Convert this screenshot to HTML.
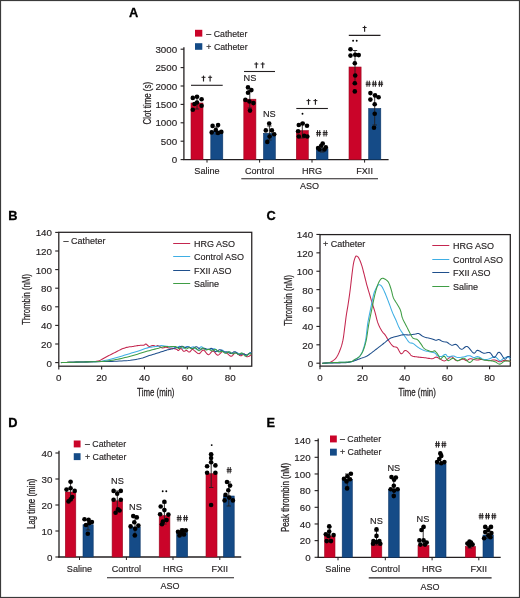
<!DOCTYPE html>
<html><head><meta charset="utf-8"><style>
html,body{margin:0;padding:0;background:#fff;}
body{width:520px;height:598px;overflow:hidden;}
svg{display:block;font-family:"Liberation Sans", sans-serif;will-change:transform;}
</style></head><body>
<svg width="520" height="598" viewBox="0 0 520 598">
<rect width="520" height="598" fill="#fff"/>
<rect x="0.5" y="0.5" width="519" height="597" fill="none" stroke="#3a3a3a" stroke-width="1.2"/>
<text x="128.9" y="16.6" font-size="12.8" text-anchor="start" font-weight="bold" fill="#000" stroke="#000" stroke-width="0.3">A</text>
<text x="8.3" y="220.1" font-size="12.8" text-anchor="start" font-weight="bold" fill="#000" stroke="#000" stroke-width="0.3">B</text>
<text x="266.6" y="220.1" font-size="12.8" text-anchor="start" font-weight="bold" fill="#000" stroke="#000" stroke-width="0.3">C</text>
<text x="8.3" y="427.1" font-size="12.8" text-anchor="start" font-weight="bold" fill="#000" stroke="#000" stroke-width="0.3">D</text>
<text x="266.6" y="427.1" font-size="12.8" text-anchor="start" font-weight="bold" fill="#000" stroke="#000" stroke-width="0.3">E</text>
<line x1="183.9" y1="47.2" x2="183.9" y2="160.1" stroke="#231f20" stroke-width="1.3"/>
<line x1="183.3" y1="159.6" x2="388.6" y2="159.6" stroke="#231f20" stroke-width="1.3"/>
<line x1="180.6" y1="159.6" x2="183.9" y2="159.6" stroke="#231f20" stroke-width="1.1"/>
<text x="177.2" y="163.1" font-size="9.8" text-anchor="end" fill="#231f20" stroke="#231f20" stroke-width="0.15">0</text>
<line x1="180.6" y1="141.2" x2="183.9" y2="141.2" stroke="#231f20" stroke-width="1.1"/>
<text x="177.2" y="144.7" font-size="9.8" text-anchor="end" fill="#231f20" stroke="#231f20" stroke-width="0.15">500</text>
<line x1="180.6" y1="122.8" x2="183.9" y2="122.8" stroke="#231f20" stroke-width="1.1"/>
<text x="177.2" y="126.3" font-size="9.8" text-anchor="end" fill="#231f20" stroke="#231f20" stroke-width="0.15">1000</text>
<line x1="180.6" y1="104.4" x2="183.9" y2="104.4" stroke="#231f20" stroke-width="1.1"/>
<text x="177.2" y="107.9" font-size="9.8" text-anchor="end" fill="#231f20" stroke="#231f20" stroke-width="0.15">1500</text>
<line x1="180.6" y1="86" x2="183.9" y2="86" stroke="#231f20" stroke-width="1.1"/>
<text x="177.2" y="89.5" font-size="9.8" text-anchor="end" fill="#231f20" stroke="#231f20" stroke-width="0.15">2000</text>
<line x1="180.6" y1="67.6" x2="183.9" y2="67.6" stroke="#231f20" stroke-width="1.1"/>
<text x="177.2" y="71.1" font-size="9.8" text-anchor="end" fill="#231f20" stroke="#231f20" stroke-width="0.15">2500</text>
<line x1="180.6" y1="49.2" x2="183.9" y2="49.2" stroke="#231f20" stroke-width="1.1"/>
<text x="177.2" y="52.7" font-size="9.8" text-anchor="end" fill="#231f20" stroke="#231f20" stroke-width="0.15">3000</text>
<text transform="translate(151,103.2) rotate(-90) scale(0.76,1)" font-size="10.4" text-anchor="middle" fill="#231f20" stroke="#231f20" stroke-width="0.25">Clot time (s)</text>
<rect x="195" y="29.8" width="7.3" height="6.8" fill="#ca0429"/>
<rect x="195" y="43.2" width="7.3" height="6.6" fill="#154b87"/>
<text x="206.3" y="36.6" font-size="8.8" text-anchor="start" fill="#231f20" stroke="#231f20" stroke-width="0.15">– Catheter</text>
<text x="206.3" y="49.8" font-size="8.8" text-anchor="start" fill="#231f20" stroke="#231f20" stroke-width="0.15">+ Catheter</text>
<line x1="207" y1="159.6" x2="207" y2="162.6" stroke="#231f20" stroke-width="1.0"/>
<text x="207" y="174" font-size="9.1" text-anchor="middle" fill="#231f20" stroke="#231f20" stroke-width="0.15">Saline</text>
<line x1="259.6" y1="159.6" x2="259.6" y2="162.6" stroke="#231f20" stroke-width="1.0"/>
<text x="259.6" y="174" font-size="9.1" text-anchor="middle" fill="#231f20" stroke="#231f20" stroke-width="0.15">Control</text>
<line x1="312" y1="159.6" x2="312" y2="162.6" stroke="#231f20" stroke-width="1.0"/>
<text x="312" y="174" font-size="9.1" text-anchor="middle" fill="#231f20" stroke="#231f20" stroke-width="0.15">HRG</text>
<line x1="364.6" y1="159.6" x2="364.6" y2="162.6" stroke="#231f20" stroke-width="1.0"/>
<text x="364.6" y="174" font-size="9.1" text-anchor="middle" fill="#231f20" stroke="#231f20" stroke-width="0.15">FXII</text>
<line x1="241.3" y1="178.8" x2="378" y2="178.8" stroke="#231f20" stroke-width="1.1"/>
<text x="309.6" y="189.4" font-size="9" text-anchor="middle" fill="#231f20" stroke="#231f20" stroke-width="0.15">ASO</text>
<rect x="191" y="103" width="12" height="56.6" fill="#ca0429" stroke="#9a0a22" stroke-width="0.6"/>
<rect x="210.8" y="131" width="12" height="28.6" fill="#154b87" stroke="#0b3566" stroke-width="0.6"/>
<rect x="243.8" y="99.2" width="12.1" height="60.4" fill="#ca0429" stroke="#9a0a22" stroke-width="0.6"/>
<rect x="263.5" y="133.3" width="11.8" height="26.3" fill="#154b87" stroke="#0b3566" stroke-width="0.6"/>
<rect x="296.3" y="130.6" width="12" height="29" fill="#ca0429" stroke="#9a0a22" stroke-width="0.6"/>
<rect x="316.3" y="148.7" width="11.7" height="10.9" fill="#154b87" stroke="#0b3566" stroke-width="0.6"/>
<rect x="349" y="67" width="12.1" height="92.6" fill="#ca0429" stroke="#9a0a22" stroke-width="0.6"/>
<rect x="368.7" y="108.5" width="12.1" height="51.1" fill="#154b87" stroke="#0b3566" stroke-width="0.6"/>
<line x1="197" y1="97" x2="197" y2="109" stroke="#231f20" stroke-width="0.9"/>
<line x1="194.8" y1="97" x2="199.2" y2="97" stroke="#231f20" stroke-width="0.9"/>
<line x1="194.8" y1="109" x2="199.2" y2="109" stroke="#231f20" stroke-width="0.9"/>
<line x1="216.8" y1="127" x2="216.8" y2="134" stroke="#231f20" stroke-width="0.9"/>
<line x1="214.6" y1="127" x2="219" y2="127" stroke="#231f20" stroke-width="0.9"/>
<line x1="214.6" y1="134" x2="219" y2="134" stroke="#231f20" stroke-width="0.9"/>
<line x1="249.8" y1="90.5" x2="249.8" y2="108" stroke="#231f20" stroke-width="0.9"/>
<line x1="247.6" y1="90.5" x2="252" y2="90.5" stroke="#231f20" stroke-width="0.9"/>
<line x1="247.6" y1="108" x2="252" y2="108" stroke="#231f20" stroke-width="0.9"/>
<line x1="269.4" y1="126" x2="269.4" y2="140" stroke="#231f20" stroke-width="0.9"/>
<line x1="267.2" y1="126" x2="271.6" y2="126" stroke="#231f20" stroke-width="0.9"/>
<line x1="267.2" y1="140" x2="271.6" y2="140" stroke="#231f20" stroke-width="0.9"/>
<line x1="302.3" y1="123" x2="302.3" y2="138" stroke="#231f20" stroke-width="0.9"/>
<line x1="300.1" y1="123" x2="304.5" y2="123" stroke="#231f20" stroke-width="0.9"/>
<line x1="300.1" y1="138" x2="304.5" y2="138" stroke="#231f20" stroke-width="0.9"/>
<line x1="322.2" y1="144.5" x2="322.2" y2="152" stroke="#231f20" stroke-width="0.9"/>
<line x1="320" y1="144.5" x2="324.4" y2="144.5" stroke="#231f20" stroke-width="0.9"/>
<line x1="320" y1="152" x2="324.4" y2="152" stroke="#231f20" stroke-width="0.9"/>
<line x1="355" y1="50.5" x2="355" y2="84" stroke="#231f20" stroke-width="0.9"/>
<line x1="352.8" y1="50.5" x2="357.2" y2="50.5" stroke="#231f20" stroke-width="0.9"/>
<line x1="352.8" y1="84" x2="357.2" y2="84" stroke="#231f20" stroke-width="0.9"/>
<line x1="374.7" y1="95" x2="374.7" y2="125" stroke="#231f20" stroke-width="0.9"/>
<line x1="372.5" y1="95" x2="376.9" y2="95" stroke="#231f20" stroke-width="0.9"/>
<line x1="372.5" y1="125" x2="376.9" y2="125" stroke="#231f20" stroke-width="0.9"/>
<circle cx="192.8" cy="97.9" r="2.3" fill="#000"/>
<circle cx="197" cy="96.8" r="2.3" fill="#000"/>
<circle cx="201.6" cy="99.3" r="2.3" fill="#000"/>
<circle cx="197" cy="102.5" r="2.3" fill="#000"/>
<circle cx="201.6" cy="105.7" r="2.3" fill="#000"/>
<circle cx="192.8" cy="109.8" r="2.3" fill="#000"/>
<circle cx="194.5" cy="104" r="2.3" fill="#000"/>
<circle cx="212.6" cy="125.9" r="2.3" fill="#000"/>
<circle cx="218.1" cy="125" r="2.3" fill="#000"/>
<circle cx="215.8" cy="130.1" r="2.3" fill="#000"/>
<circle cx="211.7" cy="132.4" r="2.3" fill="#000"/>
<circle cx="221.3" cy="131.9" r="2.3" fill="#000"/>
<circle cx="218" cy="133" r="2.3" fill="#000"/>
<circle cx="248" cy="87.4" r="2.3" fill="#000"/>
<circle cx="251.4" cy="90.1" r="2.3" fill="#000"/>
<circle cx="248" cy="92.8" r="2.3" fill="#000"/>
<circle cx="245.4" cy="99.9" r="2.3" fill="#000"/>
<circle cx="249.4" cy="101.5" r="2.3" fill="#000"/>
<circle cx="253.4" cy="103.1" r="2.3" fill="#000"/>
<circle cx="250" cy="110.6" r="2.3" fill="#000"/>
<circle cx="269.2" cy="123.5" r="2.3" fill="#000"/>
<circle cx="265.8" cy="130.4" r="2.3" fill="#000"/>
<circle cx="271.9" cy="130.4" r="2.3" fill="#000"/>
<circle cx="274.2" cy="134.2" r="2.3" fill="#000"/>
<circle cx="269.6" cy="136.5" r="2.3" fill="#000"/>
<circle cx="267.3" cy="141.9" r="2.3" fill="#000"/>
<circle cx="298.8" cy="125" r="2.3" fill="#000"/>
<circle cx="302.7" cy="123.5" r="2.3" fill="#000"/>
<circle cx="307" cy="125.8" r="2.3" fill="#000"/>
<circle cx="298.1" cy="131.2" r="2.3" fill="#000"/>
<circle cx="298.8" cy="136.5" r="2.3" fill="#000"/>
<circle cx="304.2" cy="135.8" r="2.3" fill="#000"/>
<circle cx="307.3" cy="136.5" r="2.3" fill="#000"/>
<circle cx="322.7" cy="143.5" r="2.3" fill="#000"/>
<circle cx="318.1" cy="148" r="2.3" fill="#000"/>
<circle cx="325.8" cy="147.3" r="2.3" fill="#000"/>
<circle cx="321.2" cy="145.8" r="2.3" fill="#000"/>
<circle cx="319.5" cy="149.5" r="2.3" fill="#000"/>
<circle cx="324.5" cy="149.5" r="2.3" fill="#000"/>
<circle cx="350.5" cy="49.3" r="2.3" fill="#000"/>
<circle cx="350.5" cy="55.6" r="2.3" fill="#000"/>
<circle cx="355.2" cy="54.7" r="2.3" fill="#000"/>
<circle cx="358.7" cy="55.1" r="2.3" fill="#000"/>
<circle cx="354.8" cy="63.3" r="2.3" fill="#000"/>
<circle cx="355.2" cy="75.5" r="2.3" fill="#000"/>
<circle cx="354.8" cy="83.2" r="2.3" fill="#000"/>
<circle cx="354.8" cy="91.4" r="2.3" fill="#000"/>
<circle cx="370.4" cy="93.1" r="2.3" fill="#000"/>
<circle cx="375.1" cy="95.4" r="2.3" fill="#000"/>
<circle cx="378.6" cy="97.3" r="2.3" fill="#000"/>
<circle cx="370.4" cy="99.6" r="2.3" fill="#000"/>
<circle cx="374.7" cy="104.3" r="2.3" fill="#000"/>
<circle cx="374.7" cy="113.7" r="2.3" fill="#000"/>
<circle cx="374" cy="127.7" r="2.3" fill="#000"/>
<line x1="191" y1="85.3" x2="222.7" y2="85.3" stroke="#231f20" stroke-width="1.1"/>
<line x1="203.5" y1="75.6" x2="203.5" y2="81.5" stroke="#231f20" stroke-width="1.15"/>
<line x1="201.5" y1="77.3" x2="205.5" y2="77.3" stroke="#231f20" stroke-width="1.0"/>
<line x1="210.1" y1="75.6" x2="210.1" y2="81.5" stroke="#231f20" stroke-width="1.15"/>
<line x1="208.1" y1="77.3" x2="212.1" y2="77.3" stroke="#231f20" stroke-width="1.0"/>
<line x1="244" y1="71.5" x2="275" y2="71.5" stroke="#231f20" stroke-width="1.1"/>
<line x1="256.3" y1="62.3" x2="256.3" y2="68.2" stroke="#231f20" stroke-width="1.15"/>
<line x1="254.3" y1="64" x2="258.3" y2="64" stroke="#231f20" stroke-width="1.0"/>
<line x1="262.7" y1="62.3" x2="262.7" y2="68.2" stroke="#231f20" stroke-width="1.15"/>
<line x1="260.7" y1="64" x2="264.7" y2="64" stroke="#231f20" stroke-width="1.0"/>
<line x1="296.3" y1="108.5" x2="327.9" y2="108.5" stroke="#231f20" stroke-width="1.1"/>
<line x1="308.5" y1="98.9" x2="308.5" y2="104.8" stroke="#231f20" stroke-width="1.15"/>
<line x1="306.5" y1="100.6" x2="310.5" y2="100.6" stroke="#231f20" stroke-width="1.0"/>
<line x1="315.4" y1="98.9" x2="315.4" y2="104.8" stroke="#231f20" stroke-width="1.15"/>
<line x1="313.4" y1="100.6" x2="317.4" y2="100.6" stroke="#231f20" stroke-width="1.0"/>
<line x1="348.8" y1="35.4" x2="380.5" y2="35.4" stroke="#231f20" stroke-width="1.1"/>
<line x1="364.6" y1="25.8" x2="364.6" y2="31.7" stroke="#231f20" stroke-width="1.15"/>
<line x1="362.6" y1="27.5" x2="366.6" y2="27.5" stroke="#231f20" stroke-width="1.0"/>
<text x="250" y="81.2" font-size="9.2" text-anchor="middle" fill="#231f20" stroke="#231f20" stroke-width="0.15">NS</text>
<text x="269.3" y="117" font-size="9.2" text-anchor="middle" fill="#231f20" stroke="#231f20" stroke-width="0.15">NS</text>
<circle cx="302.5" cy="113.8" r="0.95" fill="#000"/>
<path d="M317.55,130.1 L317.35,136.5 M319.75,130.1 L319.55,136.5 M316.1,132.53 L321.1,132.53 M316.1,134.2 L321.1,134.2" stroke="#231f20" stroke-width="0.95" fill="none"/>
<path d="M324.15,130.1 L323.95,136.5 M326.35,130.1 L326.15,136.5 M322.7,132.53 L327.7,132.53 M322.7,134.2 L327.7,134.2" stroke="#231f20" stroke-width="0.95" fill="none"/>
<circle cx="353.1" cy="40.8" r="0.95" fill="#000"/>
<circle cx="356.7" cy="40.8" r="0.95" fill="#000"/>
<path d="M367.15,80.7 L366.95,86.8 M369.35,80.7 L369.15,86.8 M365.7,83.02 L370.7,83.02 M365.7,84.6 L370.7,84.6" stroke="#231f20" stroke-width="0.95" fill="none"/>
<path d="M373.35,80.7 L373.15,86.8 M375.55,80.7 L375.35,86.8 M371.9,83.02 L376.9,83.02 M371.9,84.6 L376.9,84.6" stroke="#231f20" stroke-width="0.95" fill="none"/>
<path d="M379.55,80.7 L379.35,86.8 M381.75,80.7 L381.55,86.8 M378.1,83.02 L383.1,83.02 M378.1,84.6 L383.1,84.6" stroke="#231f20" stroke-width="0.95" fill="none"/>
<rect x="58.8" y="232.3" width="192.95" height="133.9" fill="none" stroke="#231f20" stroke-width="1.25"/>
<line x1="55.2" y1="362.6" x2="58.8" y2="362.6" stroke="#231f20" stroke-width="1.1"/>
<text x="52" y="366.6" font-size="9.8" text-anchor="end" fill="#231f20" stroke="#231f20" stroke-width="0.15">0</text>
<line x1="55.2" y1="344" x2="58.8" y2="344" stroke="#231f20" stroke-width="1.1"/>
<text x="52" y="348" font-size="9.8" text-anchor="end" fill="#231f20" stroke="#231f20" stroke-width="0.15">20</text>
<line x1="55.2" y1="325.4" x2="58.8" y2="325.4" stroke="#231f20" stroke-width="1.1"/>
<text x="52" y="329.4" font-size="9.8" text-anchor="end" fill="#231f20" stroke="#231f20" stroke-width="0.15">40</text>
<line x1="55.2" y1="306.8" x2="58.8" y2="306.8" stroke="#231f20" stroke-width="1.1"/>
<text x="52" y="310.8" font-size="9.8" text-anchor="end" fill="#231f20" stroke="#231f20" stroke-width="0.15">60</text>
<line x1="55.2" y1="288.2" x2="58.8" y2="288.2" stroke="#231f20" stroke-width="1.1"/>
<text x="52" y="292.2" font-size="9.8" text-anchor="end" fill="#231f20" stroke="#231f20" stroke-width="0.15">80</text>
<line x1="55.2" y1="269.6" x2="58.8" y2="269.6" stroke="#231f20" stroke-width="1.1"/>
<text x="52" y="273.6" font-size="9.8" text-anchor="end" fill="#231f20" stroke="#231f20" stroke-width="0.15">100</text>
<line x1="55.2" y1="251" x2="58.8" y2="251" stroke="#231f20" stroke-width="1.1"/>
<text x="52" y="255" font-size="9.8" text-anchor="end" fill="#231f20" stroke="#231f20" stroke-width="0.15">120</text>
<line x1="55.2" y1="232.4" x2="58.8" y2="232.4" stroke="#231f20" stroke-width="1.1"/>
<text x="52" y="236.4" font-size="9.8" text-anchor="end" fill="#231f20" stroke="#231f20" stroke-width="0.15">140</text>
<line x1="58.8" y1="366.2" x2="58.8" y2="369.4" stroke="#231f20" stroke-width="1.1"/>
<text x="58.8" y="380.7" font-size="9.8" text-anchor="middle" fill="#231f20" stroke="#231f20" stroke-width="0.15">0</text>
<line x1="101.64" y1="366.2" x2="101.64" y2="369.4" stroke="#231f20" stroke-width="1.1"/>
<text x="101.64" y="380.7" font-size="9.8" text-anchor="middle" fill="#231f20" stroke="#231f20" stroke-width="0.15">20</text>
<line x1="144.48" y1="366.2" x2="144.48" y2="369.4" stroke="#231f20" stroke-width="1.1"/>
<text x="144.48" y="380.7" font-size="9.8" text-anchor="middle" fill="#231f20" stroke="#231f20" stroke-width="0.15">40</text>
<line x1="187.32" y1="366.2" x2="187.32" y2="369.4" stroke="#231f20" stroke-width="1.1"/>
<text x="187.32" y="380.7" font-size="9.8" text-anchor="middle" fill="#231f20" stroke="#231f20" stroke-width="0.15">60</text>
<line x1="230.16" y1="366.2" x2="230.16" y2="369.4" stroke="#231f20" stroke-width="1.1"/>
<text x="230.16" y="380.7" font-size="9.8" text-anchor="middle" fill="#231f20" stroke="#231f20" stroke-width="0.15">80</text>
<text transform="translate(155.8,396.2) scale(0.76,1)" font-size="10.4" text-anchor="middle" fill="#231f20" stroke="#231f20" stroke-width="0.25">Time (min)</text>
<text transform="translate(29.8,299.4) rotate(-90) scale(0.745,1)" font-size="10.4" text-anchor="middle" fill="#231f20" stroke="#231f20" stroke-width="0.25">Thrombin (nM)</text>
<text x="63.6" y="243.8" font-size="9" text-anchor="start" fill="#231f20" stroke="#231f20" stroke-width="0.15">– Catheter</text>
<line x1="173.2" y1="243.5" x2="190.2" y2="243.5" stroke="#c4264f" stroke-width="1.0"/>
<text x="193.9" y="246.8" font-size="9" text-anchor="start" fill="#231f20" stroke="#231f20" stroke-width="0.15">HRG ASO</text>
<line x1="173.2" y1="256.5" x2="190.2" y2="256.5" stroke="#3eaee4" stroke-width="1.0"/>
<text x="193.9" y="259.8" font-size="9" text-anchor="start" fill="#231f20" stroke="#231f20" stroke-width="0.15">Control ASO</text>
<line x1="173.2" y1="270.5" x2="190.2" y2="270.5" stroke="#1f4f8c" stroke-width="1.0"/>
<text x="193.9" y="273.8" font-size="9" text-anchor="start" fill="#231f20" stroke="#231f20" stroke-width="0.15">FXII ASO</text>
<line x1="173.2" y1="283.5" x2="190.2" y2="283.5" stroke="#3f9d45" stroke-width="1.0"/>
<text x="193.9" y="286.8" font-size="9" text-anchor="start" fill="#231f20" stroke="#231f20" stroke-width="0.15">Saline</text>
<path d="M61.37,362.6 L62.23,362.57 L63.39,362.53 L64.77,362.48 L66.3,362.42 L67.91,362.37 L69.51,362.32 L71.15,362.28 L72.89,362.23 L74.7,362.19 L76.55,362.14 L78.41,362.09 L80.22,362.04 L82.06,361.99 L83.97,361.93 L85.88,361.87 L87.72,361.8 L89.43,361.74 L90.93,361.67 L92.2,361.61 L93.29,361.55 L94.24,361.5 L95.09,361.43 L95.91,361.33 L96.71,361.21 L97.48,361.06 L98.15,360.9 L98.78,360.71 L99.39,360.49 L100.05,360.23 L100.78,359.9 L101.6,359.5 L102.47,359.02 L103.38,358.5 L104.31,357.96 L105.23,357.43 L106.14,356.93 L107.03,356.46 L107.92,356.01 L108.82,355.56 L109.71,355.12 L110.6,354.68 L111.49,354.23 L112.39,353.78 L113.28,353.33 L114.17,352.88 L115.06,352.43 L115.96,351.98 L116.85,351.53 L117.74,351.07 L118.63,350.6 L119.51,350.12 L120.4,349.66 L121.3,349.23 L122.2,348.84 L123.12,348.49 L124.05,348.17 L124.99,347.88 L125.92,347.61 L126.85,347.38 L127.77,347.16 L128.68,346.99 L129.57,346.85 L130.46,346.74 L131.35,346.65 L132.24,346.54 L133.13,346.42 L134.02,346.27 L134.91,346.1 L135.8,345.93 L136.7,345.76 L137.59,345.61 L138.48,345.49 L139.41,345.4 L140.39,345.35 L141.36,345.31 L142.29,345.27 L143.13,345.21 L143.84,345.12 L144.37,344.94 L144.75,344.7 L145.04,344.44 L145.31,344.21 L145.6,344.08 L145.98,344.09 L146.45,344.33 L146.96,344.74 L147.49,345.26 L148.05,345.77 L148.62,346.19 L149.19,346.42 L149.78,346.42 L150.4,346.25 L151.03,345.99 L151.65,345.72 L152.26,345.49 L152.83,345.4 L153.38,345.46 L153.92,345.62 L154.44,345.84 L154.94,346.07 L155.4,346.24 L155.83,346.33 L156.21,346.27 L156.52,346.12 L156.81,345.92 L157.09,345.73 L157.4,345.6 L157.76,345.58 L158.18,345.69 L158.66,345.9 L159.15,346.17 L159.65,346.46 L160.12,346.74 L160.54,346.98 L160.9,347.19 L161.2,347.41 L161.47,347.62 L161.75,347.8 L162.07,347.94 L162.47,348 L162.96,347.96 L163.51,347.83 L164.11,347.64 L164.72,347.46 L165.32,347.31 L165.9,347.25 L166.44,347.3 L166.96,347.4 L167.47,347.55 L167.99,347.72 L168.53,347.87 L169.11,348 L169.75,348.09 L170.42,348.16 L171.12,348.22 L171.83,348.28 L172.52,348.36 L173.18,348.46 L173.84,348.59 L174.51,348.73 L175.16,348.88 L175.78,349.05 L176.35,349.22 L176.82,349.39 L177.19,349.62 L177.44,349.9 L177.64,350.19 L177.82,350.44 L178.04,350.59 L178.32,350.6 L178.69,350.38 L179.09,349.96 L179.53,349.43 L179.98,348.94 L180.44,348.57 L180.89,348.46 L181.35,348.69 L181.81,349.16 L182.27,349.78 L182.74,350.41 L183.21,350.94 L183.68,351.25 L184.14,351.3 L184.6,351.15 L185.06,350.91 L185.52,350.64 L185.99,350.45 L186.46,350.42 L186.95,350.6 L187.45,350.95 L187.96,351.37 L188.47,351.76 L188.97,352.04 L189.46,352.09 L189.94,351.84 L190.41,351.36 L190.88,350.75 L191.34,350.14 L191.8,349.65 L192.25,349.39 L192.67,349.4 L193.06,349.56 L193.44,349.85 L193.84,350.21 L194.29,350.6 L194.82,350.98 L195.43,351.43 L196.12,352.03 L196.85,352.65 L197.61,353.2 L198.37,353.58 L199.1,353.67 L199.81,353.34 L200.51,352.62 L201.2,351.74 L201.91,350.88 L202.63,350.24 L203.38,350.05 L204.17,350.44 L204.99,351.29 L205.82,352.38 L206.66,353.46 L207.5,354.31 L208.31,354.7 L209.11,354.47 L209.9,353.78 L210.68,352.86 L211.46,351.94 L212.24,351.23 L213.02,350.98 L213.81,351.31 L214.59,352.08 L215.37,353.07 L216.15,354.06 L216.94,354.83 L217.74,355.16 L218.55,354.93 L219.39,354.3 L220.23,353.45 L221.06,352.56 L221.88,351.83 L222.66,351.44 L223.41,351.41 L224.14,351.61 L224.85,351.95 L225.54,352.39 L226.24,352.86 L226.95,353.3 L227.66,353.81 L228.38,354.45 L229.09,355.12 L229.8,355.72 L230.52,356.14 L231.23,356.28 L231.94,356 L232.63,355.37 L233.32,354.56 L234.02,353.74 L234.75,353.11 L235.51,352.84 L236.34,353.02 L237.23,353.54 L238.14,354.24 L239.04,354.95 L239.89,355.53 L240.66,355.81 L241.33,355.7 L241.95,355.31 L242.52,354.78 L243.05,354.25 L243.57,353.87 L244.08,353.77 L244.57,354.04 L245.01,354.58 L245.44,355.28 L245.87,355.97 L246.34,356.54 L246.87,356.83 L247.52,356.81 L248.28,356.57 L249.08,356.19 L249.83,355.77 L250.48,355.4 L250.94,355.16" fill="none" stroke="#c4264f" stroke-width="1.05" stroke-linejoin="round" stroke-linecap="round"/>
<path d="M61.37,362.6 L63.44,362.54 L66.32,362.46 L69.72,362.36 L73.37,362.25 L76.96,362.14 L80.22,362.04 L83.27,361.96 L86.37,361.88 L89.42,361.8 L92.33,361.72 L95,361.61 L97.36,361.48 L99.28,361.34 L100.83,361.18 L102.15,361.01 L103.38,360.81 L104.66,360.57 L106.14,360.28 L107.81,359.92 L109.56,359.51 L111.36,359.06 L113.19,358.58 L115.03,358.08 L116.85,357.58 L118.66,357.06 L120.48,356.51 L122.31,355.94 L124.14,355.37 L125.96,354.8 L127.77,354.23 L129.6,353.66 L131.46,353.09 L133.31,352.52 L135.13,351.95 L136.86,351.4 L138.48,350.88 L139.98,350.38 L141.37,349.89 L142.69,349.41 L143.95,348.96 L145.18,348.55 L146.41,348.19 L147.63,347.87 L148.83,347.59 L150,347.35 L151.13,347.14 L152.22,346.96 L153.26,346.79 L154.27,346.65 L155.25,346.55 L156.19,346.46 L157.08,346.39 L157.89,346.32 L158.62,346.23 L159.22,346.11 L159.69,345.98 L160.09,345.84 L160.47,345.71 L160.89,345.62 L161.4,345.58 L162.01,345.6 L162.68,345.68 L163.38,345.78 L164.1,345.91 L164.8,346.03 L165.47,346.14 L166.09,346.21 L166.67,346.25 L167.24,346.36 L167.82,346.54 L168.44,346.77 L169.11,346.99 L169.86,347.11 L170.67,347.06 L171.51,346.86 L172.37,346.69 L173.22,346.76 L174.04,347.08 L174.83,347.51 L175.62,347.77 L176.4,347.73 L177.17,347.38 L177.96,346.88 L178.75,346.45 L179.56,346.31 L180.38,346.58 L181.2,347.17 L182.03,347.81 L182.86,348.22 L183.68,348.2 L184.5,347.79 L185.33,347.17 L186.16,346.63 L186.98,346.42 L187.8,346.59 L188.61,346.99 L189.4,347.38 L190.19,347.57 L190.97,347.47 L191.75,347.18 L192.53,346.9 L193.32,346.85 L194.1,347.18 L194.87,347.85 L195.65,348.67 L196.43,349.35 L197.22,349.64 L198.03,349.39 L198.87,348.64 L199.75,347.69 L200.64,346.99 L201.52,346.84 L202.37,347.21 L203.17,347.83 L203.91,348.46 L204.6,348.95 L205.26,349.25 L205.91,349.38 L206.56,349.37 L207.24,349.3 L207.93,349.26 L208.62,349.32 L209.32,349.48 L210.03,349.67 L210.76,349.78 L211.52,349.71 L212.33,349.42 L213.17,349 L214.04,348.7 L214.92,348.83 L215.8,349.48 L216.67,350.42 L217.52,351.26 L218.37,351.7 L219.22,351.61 L220.08,351.1 L220.94,350.47 L221.81,350.1 L222.69,350.27 L223.58,350.94 L224.48,351.77 L225.38,352.4 L226.28,352.59 L227.16,352.38 L228.03,352.01 L228.89,351.82 L229.74,352 L230.6,352.5 L231.45,353.09 L232.3,353.48 L233.17,353.51 L234.06,353.14 L234.94,352.63 L235.81,352.33 L236.65,352.43 L237.44,352.85 L238.17,353.32 L238.83,353.67 L239.46,353.83 L240.1,353.79 L240.77,353.6 L241.51,353.34 L242.35,353.2 L243.25,353.41 L244.19,354.06 L245.13,354.92 L246.03,355.53 L246.87,355.58 L247.67,355.09 L248.47,354.24 L249.24,353.38 L249.93,352.81 L250.51,352.58 L250.94,352.6" fill="none" stroke="#3eaee4" stroke-width="1.05" stroke-linejoin="round" stroke-linecap="round"/>
<path d="M61.37,362.6 L63.39,362.54 L66.16,362.45 L69.46,362.35 L73.05,362.24 L76.71,362.14 L80.22,362.04 L83.71,361.96 L87.4,361.88 L91.16,361.8 L94.86,361.72 L98.4,361.65 L101.64,361.58 L104.55,361.52 L107.23,361.47 L109.74,361.42 L112.14,361.37 L114.48,361.3 L116.85,361.21 L119.23,361.09 L121.58,360.97 L123.88,360.84 L126.11,360.68 L128.27,360.5 L130.34,360.28 L132.32,360.02 L134.21,359.73 L136.03,359.41 L137.78,359.07 L139.45,358.7 L141.05,358.32 L142.58,357.91 L144.01,357.45 L145.38,356.98 L146.69,356.5 L147.95,356.05 L149.19,355.62 L150.4,355.24 L151.56,354.88 L152.67,354.54 L153.75,354.22 L154.81,353.9 L155.83,353.58 L156.82,353.27 L157.75,352.98 L158.66,352.69 L159.55,352.4 L160.46,352.11 L161.4,351.81 L162.39,351.49 L163.42,351.14 L164.45,350.78 L165.48,350.44 L166.47,350.13 L167.4,349.86 L168.26,349.65 L169.07,349.49 L169.84,349.36 L170.59,349.24 L171.34,349.1 L172.11,348.93 L172.89,348.71 L173.67,348.47 L174.45,348.21 L175.24,347.95 L176.03,347.72 L176.82,347.57 L177.64,347.52 L178.46,347.41 L179.29,347.15 L180.12,346.79 L180.94,346.45 L181.75,346.29 L182.55,346.38 L183.33,346.68 L184.11,347.08 L184.88,347.4 L185.67,347.48 L186.46,347.32 L187.27,347.06 L188.1,346.9 L188.93,346.98 L189.76,347.33 L190.58,347.82 L191.39,348.26 L192.18,348.46 L192.96,348.36 L193.73,347.98 L194.51,347.45 L195.29,346.96 L196.1,346.71 L196.92,346.83 L197.75,347.33 L198.59,348.06 L199.45,348.76 L200.33,349.2 L201.24,349.22 L202.21,348.87 L203.24,348.4 L204.3,348.2 L205.34,348.46 L206.33,348.97 L207.24,349.37 L208.04,349.47 L208.76,349.3 L209.44,348.98 L210.1,348.64 L210.78,348.38 L211.52,348.37 L212.33,348.75 L213.17,349.51 L214.04,350.46 L214.92,351.27 L215.8,351.67 L216.67,351.55 L217.52,351.01 L218.37,350.34 L219.22,349.82 L220.08,349.66 L220.94,349.94 L221.81,350.52 L222.69,351.2 L223.58,351.72 L224.48,351.94 L225.38,351.94 L226.28,351.89 L227.16,352.01 L228.03,352.34 L228.89,352.82 L229.74,353.28 L230.6,353.51 L231.45,353.38 L232.3,352.92 L233.17,352.31 L234.06,351.8 L234.94,351.67 L235.81,352.03 L236.65,352.74 L237.44,353.54 L238.17,354.19 L238.83,354.59 L239.46,354.75 L240.1,354.7 L240.77,354.47 L241.51,354.15 L242.35,353.9 L243.25,353.9 L244.19,354.2 L245.13,354.62 L246.03,354.85 L246.87,354.76 L247.67,354.37 L248.47,353.82 L249.24,353.33 L249.93,353.07 L250.51,353.05 L250.94,353.16" fill="none" stroke="#1f4f8c" stroke-width="1.05" stroke-linejoin="round" stroke-linecap="round"/>
<path d="M61.37,362.6 L63.39,362.54 L66.16,362.46 L69.46,362.36 L73.05,362.25 L76.71,362.14 L80.22,362.04 L83.81,361.95 L87.7,361.86 L91.67,361.77 L95.47,361.68 L98.87,361.59 L101.64,361.48 L103.6,361.38 L104.92,361.29 L105.83,361.19 L106.6,361.08 L107.47,360.93 L108.71,360.74 L110.31,360.5 L112.07,360.23 L113.94,359.93 L115.86,359.6 L117.78,359.25 L119.63,358.88 L121.43,358.48 L123.22,358.06 L125,357.61 L126.78,357.14 L128.56,356.66 L130.34,356.18 L132.14,355.69 L133.95,355.18 L135.76,354.66 L137.56,354.14 L139.33,353.62 L141.05,353.11 L142.74,352.61 L144.41,352.11 L146.05,351.61 L147.65,351.12 L149.2,350.66 L150.69,350.23 L152.14,349.84 L153.54,349.47 L154.9,349.13 L156.2,348.81 L157.44,348.49 L158.62,348.19 L159.72,347.86 L160.74,347.53 L161.71,347.21 L162.63,346.92 L163.52,346.68 L164.4,346.51 L165.25,346.44 L166.04,346.45 L166.81,346.51 L167.57,346.59 L168.33,346.67 L169.11,346.7 L169.92,346.67 L170.75,346.58 L171.58,346.55 L172.41,346.58 L173.23,346.58 L174.04,346.5 L174.83,346.44 L175.62,346.53 L176.4,346.88 L177.17,347.49 L177.96,348.16 L178.75,348.6 L179.56,348.45 L180.38,347.86 L181.2,347.13 L182.03,346.66 L182.86,346.7 L183.68,347.26 L184.5,348.05 L185.33,348.69 L186.16,348.9 L186.98,348.66 L187.8,348.19 L188.61,347.82 L189.4,347.76 L190.19,348.02 L190.97,348.44 L191.75,348.75 L192.53,348.76 L193.32,348.44 L194.1,348.01 L194.87,347.74 L195.65,347.88 L196.43,348.46 L197.22,349.35 L198.03,350.21 L198.87,350.64 L199.75,350.39 L200.64,349.57 L201.52,348.65 L202.37,348.09 L203.17,348.08 L203.91,348.51 L204.6,349.1 L205.26,349.63 L205.91,349.95 L206.56,350.01 L207.24,349.83 L207.93,349.55 L208.62,349.35 L209.32,349.4 L210.03,349.72 L210.76,350.22 L211.52,350.69 L212.33,350.89 L213.17,350.63 L214.04,350.06 L214.92,349.55 L215.8,349.51 L216.67,350.01 L217.52,350.81 L218.37,351.54 L219.22,351.89 L220.08,351.79 L220.94,351.45 L221.81,351.25 L222.69,351.49 L223.58,352.16 L224.48,352.92 L225.38,353.35 L226.28,353.21 L227.16,352.65 L228.03,352.04 L228.89,351.77 L229.74,352.04 L230.6,352.69 L231.45,353.38 L232.3,353.76 L233.17,353.72 L234.06,353.34 L234.94,352.99 L235.81,353 L236.65,353.4 L237.44,353.92 L238.17,354.25 L238.83,354.27 L239.46,354.03 L240.1,353.62 L240.77,353.2 L241.51,352.98 L242.35,353.26 L243.25,354.14 L244.19,355.28 L245.13,356.07 L246.03,356.13 L246.87,355.58 L247.67,354.76 L248.47,354.05 L249.24,353.73 L249.93,353.79 L250.51,354.02 L250.94,354.24" fill="none" stroke="#3f9d45" stroke-width="1.05" stroke-linejoin="round" stroke-linecap="round"/>
<rect x="320" y="234.6" width="190.3" height="131.5" fill="none" stroke="#231f20" stroke-width="1.25"/>
<line x1="316.4" y1="363.2" x2="320" y2="363.2" stroke="#231f20" stroke-width="1.1"/>
<text x="313.2" y="367.2" font-size="9.8" text-anchor="end" fill="#231f20" stroke="#231f20" stroke-width="0.15">0</text>
<line x1="316.4" y1="344.81" x2="320" y2="344.81" stroke="#231f20" stroke-width="1.1"/>
<text x="313.2" y="348.81" font-size="9.8" text-anchor="end" fill="#231f20" stroke="#231f20" stroke-width="0.15">20</text>
<line x1="316.4" y1="326.42" x2="320" y2="326.42" stroke="#231f20" stroke-width="1.1"/>
<text x="313.2" y="330.42" font-size="9.8" text-anchor="end" fill="#231f20" stroke="#231f20" stroke-width="0.15">40</text>
<line x1="316.4" y1="308.02" x2="320" y2="308.02" stroke="#231f20" stroke-width="1.1"/>
<text x="313.2" y="312.02" font-size="9.8" text-anchor="end" fill="#231f20" stroke="#231f20" stroke-width="0.15">60</text>
<line x1="316.4" y1="289.63" x2="320" y2="289.63" stroke="#231f20" stroke-width="1.1"/>
<text x="313.2" y="293.63" font-size="9.8" text-anchor="end" fill="#231f20" stroke="#231f20" stroke-width="0.15">80</text>
<line x1="316.4" y1="271.24" x2="320" y2="271.24" stroke="#231f20" stroke-width="1.1"/>
<text x="313.2" y="275.24" font-size="9.8" text-anchor="end" fill="#231f20" stroke="#231f20" stroke-width="0.15">100</text>
<line x1="316.4" y1="252.85" x2="320" y2="252.85" stroke="#231f20" stroke-width="1.1"/>
<text x="313.2" y="256.85" font-size="9.8" text-anchor="end" fill="#231f20" stroke="#231f20" stroke-width="0.15">120</text>
<line x1="316.4" y1="234.46" x2="320" y2="234.46" stroke="#231f20" stroke-width="1.1"/>
<text x="313.2" y="238.46" font-size="9.8" text-anchor="end" fill="#231f20" stroke="#231f20" stroke-width="0.15">140</text>
<line x1="320" y1="366.1" x2="320" y2="369.3" stroke="#231f20" stroke-width="1.1"/>
<text x="320" y="380.7" font-size="9.8" text-anchor="middle" fill="#231f20" stroke="#231f20" stroke-width="0.15">0</text>
<line x1="362.4" y1="366.1" x2="362.4" y2="369.3" stroke="#231f20" stroke-width="1.1"/>
<text x="362.4" y="380.7" font-size="9.8" text-anchor="middle" fill="#231f20" stroke="#231f20" stroke-width="0.15">20</text>
<line x1="404.8" y1="366.1" x2="404.8" y2="369.3" stroke="#231f20" stroke-width="1.1"/>
<text x="404.8" y="380.7" font-size="9.8" text-anchor="middle" fill="#231f20" stroke="#231f20" stroke-width="0.15">40</text>
<line x1="447.2" y1="366.1" x2="447.2" y2="369.3" stroke="#231f20" stroke-width="1.1"/>
<text x="447.2" y="380.7" font-size="9.8" text-anchor="middle" fill="#231f20" stroke="#231f20" stroke-width="0.15">60</text>
<line x1="489.6" y1="366.1" x2="489.6" y2="369.3" stroke="#231f20" stroke-width="1.1"/>
<text x="489.6" y="380.7" font-size="9.8" text-anchor="middle" fill="#231f20" stroke="#231f20" stroke-width="0.15">80</text>
<text transform="translate(417.1,396.2) scale(0.76,1)" font-size="10.4" text-anchor="middle" fill="#231f20" stroke="#231f20" stroke-width="0.25">Time (min)</text>
<text transform="translate(291.7,300.4) rotate(-90) scale(0.745,1)" font-size="10.4" text-anchor="middle" fill="#231f20" stroke="#231f20" stroke-width="0.25">Thrombin (nM)</text>
<text x="323" y="247.1" font-size="9" text-anchor="start" fill="#231f20" stroke="#231f20" stroke-width="0.15">+ Catheter</text>
<line x1="432.3" y1="245.5" x2="449.3" y2="245.5" stroke="#c4264f" stroke-width="1.0"/>
<text x="453" y="248.8" font-size="9" text-anchor="start" fill="#231f20" stroke="#231f20" stroke-width="0.15">HRG ASO</text>
<line x1="432.3" y1="259.5" x2="449.3" y2="259.5" stroke="#3eaee4" stroke-width="1.0"/>
<text x="453" y="262.8" font-size="9" text-anchor="start" fill="#231f20" stroke="#231f20" stroke-width="0.15">Control ASO</text>
<line x1="432.3" y1="272.5" x2="449.3" y2="272.5" stroke="#1f4f8c" stroke-width="1.0"/>
<text x="453" y="275.8" font-size="9" text-anchor="start" fill="#231f20" stroke="#231f20" stroke-width="0.15">FXII ASO</text>
<line x1="432.3" y1="286.5" x2="449.3" y2="286.5" stroke="#3f9d45" stroke-width="1.0"/>
<text x="453" y="289.8" font-size="9" text-anchor="start" fill="#231f20" stroke="#231f20" stroke-width="0.15">Saline</text>
<path d="M322.54,363.2 L322.95,363.17 L323.51,363.13 L324.17,363.07 L324.9,363.01 L325.64,362.93 L326.36,362.83 L327.06,362.75 L327.77,362.68 L328.49,362.6 L329.24,362.47 L330.01,362.25 L330.81,361.91 L331.66,361.47 L332.56,360.95 L333.49,360.34 L334.41,359.63 L335.29,358.81 L336.11,357.87 L336.87,356.77 L337.6,355.52 L338.29,354.15 L338.94,352.72 L339.56,351.24 L340.14,349.77 L340.68,348.33 L341.18,346.9 L341.65,345.42 L342.09,343.87 L342.5,342.21 L342.9,340.39 L343.27,338.36 L343.61,336.12 L343.93,333.77 L344.23,331.39 L344.52,329.06 L344.8,326.88 L345.07,324.84 L345.31,322.9 L345.55,321.01 L345.78,319.14 L346.02,317.28 L346.29,315.38 L346.58,313.48 L346.89,311.59 L347.22,309.71 L347.54,307.8 L347.87,305.83 L348.2,303.79 L348.51,301.69 L348.83,299.56 L349.15,297.37 L349.47,295.12 L349.79,292.79 L350.1,290.37 L350.43,287.77 L350.76,284.97 L351.08,282.1 L351.41,279.27 L351.72,276.59 L352.01,274.18 L352.28,272.03 L352.53,270.05 L352.77,268.22 L353,266.53 L353.24,264.96 L353.5,263.52 L353.77,262.18 L354.06,260.98 L354.36,259.9 L354.65,258.95 L354.93,258.13 L355.19,257.45 L355.42,256.91 L355.61,256.51 L355.79,256.25 L355.98,256.1 L356.2,256.05 L356.46,256.07 L356.79,256.15 L357.15,256.32 L357.54,256.57 L357.95,256.94 L358.37,257.44 L358.8,258.09 L359.23,258.91 L359.69,259.88 L360.16,260.99 L360.63,262.19 L361.1,263.48 L361.55,264.8 L361.99,266.19 L362.41,267.68 L362.82,269.23 L363.24,270.85 L363.66,272.5 L364.1,274.18 L364.54,275.92 L365,277.75 L365.46,279.61 L365.93,281.47 L366.39,283.29 L366.85,285.03 L367.31,286.68 L367.77,288.27 L368.23,289.82 L368.69,291.34 L369.15,292.87 L369.61,294.41 L370.07,295.99 L370.53,297.59 L371,299.18 L371.46,300.76 L371.92,302.31 L372.36,303.79 L372.8,305.18 L373.21,306.48 L373.62,307.74 L374.04,309.02 L374.46,310.38 L374.91,311.89 L375.37,313.59 L375.83,315.46 L376.3,317.4 L376.79,319.35 L377.32,321.22 L377.88,322.92 L378.5,324.49 L379.17,325.99 L379.88,327.42 L380.58,328.74 L381.27,329.94 L381.9,331.01 L382.48,331.88 L383,332.53 L383.51,333.07 L384.01,333.58 L384.53,334.15 L385.08,334.88 L385.68,335.78 L386.29,336.79 L386.93,337.87 L387.57,338.97 L388.23,340.04 L388.9,341.04 L389.58,342.01 L390.29,343 L391.01,343.96 L391.73,344.85 L392.44,345.64 L393.14,346.28 L393.82,346.68 L394.5,346.85 L395.17,346.92 L395.83,346.99 L396.5,347.2 L397.17,347.66 L397.84,348.51 L398.51,349.68 L399.18,350.99 L399.85,352.23 L400.52,353.21 L401.2,353.73 L401.87,353.65 L402.54,353.1 L403.21,352.29 L403.88,351.43 L404.55,350.73 L405.22,350.42 L405.91,350.52 L406.62,350.86 L407.33,351.37 L408.02,351.97 L408.67,352.57 L409.25,353.08 L409.71,353.56 L410.05,354.05 L410.35,354.55 L410.69,355.03 L411.14,355.47 L411.8,355.84 L412.68,356.15 L413.74,356.41 L414.92,356.62 L416.16,356.8 L417.4,356.97 L418.58,357.13 L419.71,357.27 L420.84,357.38 L421.97,357.48 L423.1,357.56 L424.23,357.66 L425.36,357.77 L426.53,357.94 L427.73,358.15 L428.93,358.37 L430.09,358.56 L431.18,358.68 L432.15,358.69 L432.98,358.54 L433.69,358.23 L434.33,357.85 L434.94,357.48 L435.54,357.22 L436.18,357.13 L436.85,357.25 L437.52,357.52 L438.19,357.88 L438.86,358.3 L439.53,358.7 L440.2,359.06 L440.88,359.42 L441.55,359.83 L442.23,360.23 L442.91,360.58 L443.57,360.82 L444.23,360.9 L444.88,360.78 L445.53,360.49 L446.17,360.09 L446.8,359.64 L447.43,359.18 L448.05,358.79 L448.65,358.36 L449.22,357.86 L449.78,357.35 L450.36,356.93 L450.98,356.67 L451.65,356.67 L452.37,357.04 L453.13,357.74 L453.92,358.61 L454.75,359.49 L455.61,360.22 L456.53,360.63 L457.53,360.65 L458.64,360.4 L459.79,359.99 L460.92,359.56 L461.97,359.21 L462.89,359.06 L463.65,359.18 L464.29,359.48 L464.86,359.86 L465.39,360.24 L465.92,360.53 L466.49,360.63 L467.06,360.48 L467.6,360.15 L468.13,359.73 L468.71,359.3 L469.35,358.96 L470.1,358.79 L470.97,358.83 L471.95,359.02 L473,359.3 L474.08,359.6 L475.18,359.85 L476.24,359.98 L477.3,359.97 L478.36,359.86 L479.44,359.71 L480.51,359.55 L481.57,359.44 L482.6,359.43 L483.61,359.55 L484.6,359.77 L485.57,360.03 L486.55,360.3 L487.53,360.51 L488.54,360.63 L489.59,360.6 L490.68,360.45 L491.79,360.26 L492.87,360.08 L493.92,359.97 L494.9,359.98 L495.8,360.18 L496.64,360.53 L497.44,360.95 L498.22,361.35 L498.99,361.67 L499.78,361.82 L500.55,361.75 L501.31,361.51 L502.05,361.19 L502.81,360.85 L503.6,360.58 L504.44,360.44 L505.4,360.47 L506.48,360.61 L507.59,360.81 L508.64,361.04 L509.53,361.23 L510.16,361.36" fill="none" stroke="#c4264f" stroke-width="1.05" stroke-linejoin="round" stroke-linecap="round"/>
<path d="M322.54,363.2 L323.39,363.15 L324.54,363.08 L325.91,363 L327.43,362.91 L329.02,362.82 L330.6,362.74 L332.23,362.66 L333.98,362.58 L335.79,362.5 L337.64,362.43 L339.45,362.35 L341.2,362.28 L342.91,362.26 L344.62,362.29 L346.31,362.32 L347.95,362.3 L349.51,362.19 L350.95,361.91 L352.3,361.44 L353.58,360.79 L354.78,360.03 L355.88,359.25 L356.87,358.5 L357.74,357.87 L358.43,357.37 L358.96,356.98 L359.38,356.62 L359.74,356.24 L360.09,355.79 L360.49,355.2 L360.93,354.5 L361.36,353.74 L361.78,352.91 L362.2,351.98 L362.61,350.94 L363.04,349.77 L363.47,348.49 L363.92,347.09 L364.36,345.59 L364.79,343.97 L365.21,342.24 L365.58,340.39 L365.92,338.3 L366.23,335.95 L366.52,333.48 L366.79,331.04 L367.04,328.79 L367.28,326.88 L367.47,325.42 L367.61,324.33 L367.74,323.43 L367.88,322.52 L368.07,321.43 L368.34,319.98 L368.7,318.09 L369.14,315.91 L369.62,313.54 L370.13,311.1 L370.63,308.71 L371.09,306.46 L371.53,304.29 L371.97,302.09 L372.4,299.93 L372.83,297.88 L373.24,296.02 L373.64,294.41 L374.02,293.1 L374.38,292.04 L374.74,291.16 L375.08,290.39 L375.42,289.69 L375.76,288.99 L376.09,288.29 L376.42,287.64 L376.74,287.06 L377.05,286.53 L377.36,286.07 L377.66,285.68 L377.95,285.35 L378.22,285.07 L378.49,284.86 L378.76,284.72 L379.04,284.65 L379.36,284.67 L379.71,284.75 L380.07,284.88 L380.46,285.1 L380.86,285.4 L381.27,285.8 L381.69,286.32 L382.13,286.98 L382.58,287.77 L383.04,288.67 L383.51,289.63 L383.98,290.64 L384.45,291.66 L384.91,292.71 L385.37,293.82 L385.84,294.97 L386.3,296.14 L386.76,297.31 L387.2,298.46 L387.64,299.58 L388.06,300.68 L388.48,301.78 L388.89,302.88 L389.31,304.01 L389.75,305.17 L390.19,306.37 L390.63,307.61 L391.07,308.86 L391.53,310.12 L392.01,311.38 L392.5,312.62 L393.03,313.84 L393.57,315.03 L394.13,316.21 L394.71,317.42 L395.3,318.67 L395.9,319.98 L396.49,321.37 L397.07,322.84 L397.67,324.35 L398.3,325.86 L398.97,327.36 L399.71,328.81 L400.55,330.23 L401.48,331.66 L402.45,333.07 L403.43,334.43 L404.37,335.71 L405.22,336.9 L405.98,338.01 L406.68,339.06 L407.33,340.04 L407.96,340.92 L408.6,341.69 L409.25,342.33 L409.91,342.75 L410.55,342.96 L411.19,343.06 L411.84,343.13 L412.54,343.29 L413.28,343.61 L414.09,344.14 L414.94,344.8 L415.84,345.54 L416.75,346.3 L417.67,347.03 L418.58,347.66 L419.49,348.21 L420.41,348.73 L421.34,349.21 L422.26,349.65 L423.18,350.06 L424.09,350.42 L424.99,350.72 L425.87,350.95 L426.74,351.15 L427.62,351.32 L428.5,351.5 L429.39,351.7 L430.33,351.91 L431.32,352.11 L432.32,352.3 L433.28,352.52 L434.15,352.77 L434.9,353.08 L435.48,353.49 L435.92,353.98 L436.27,354.52 L436.6,355.04 L436.97,355.5 L437.45,355.84 L438.03,356.09 L438.68,356.29 L439.37,356.42 L440.08,356.48 L440.79,356.48 L441.48,356.39 L442.16,356.15 L442.87,355.74 L443.58,355.26 L444.27,354.81 L444.92,354.48 L445.5,354.37 L445.99,354.56 L446.38,354.99 L446.72,355.54 L447.08,356.11 L447.51,356.59 L448.05,356.85 L448.73,356.87 L449.5,356.71 L450.34,356.45 L451.21,356.18 L452.08,355.98 L452.92,355.94 L453.72,356.08 L454.5,356.35 L455.28,356.7 L456.08,357.05 L456.91,357.34 L457.8,357.5 L458.76,357.53 L459.78,357.47 L460.83,357.35 L461.9,357.19 L462.95,357.02 L463.95,356.85 L464.92,356.65 L465.88,356.38 L466.82,356.1 L467.74,355.85 L468.62,355.69 L469.46,355.66 L470.24,355.82 L470.96,356.15 L471.65,356.56 L472.32,356.97 L473,357.31 L473.7,357.5 L474.42,357.47 L475.13,357.29 L475.85,357.03 L476.58,356.78 L477.35,356.63 L478.15,356.67 L479.02,356.96 L479.93,357.44 L480.88,358.02 L481.83,358.61 L482.77,359.11 L483.66,359.43 L484.5,359.57 L485.28,359.61 L486.05,359.56 L486.83,359.44 L487.65,359.27 L488.54,359.06 L489.53,358.73 L490.61,358.24 L491.72,357.7 L492.83,357.22 L493.91,356.9 L494.9,356.85 L495.81,357.2 L496.68,357.88 L497.51,358.73 L498.3,359.58 L499.05,360.26 L499.78,360.63 L500.44,360.62 L501.05,360.37 L501.62,359.96 L502.18,359.47 L502.76,358.99 L503.38,358.6 L504.07,358.25 L504.81,357.87 L505.57,357.49 L506.31,357.17 L507,356.94 L507.62,356.85 L508.17,356.96 L508.69,357.24 L509.16,357.62 L509.57,358.02 L509.91,358.37 L510.16,358.6" fill="none" stroke="#3eaee4" stroke-width="1.05" stroke-linejoin="round" stroke-linecap="round"/>
<path d="M322.54,363.2 L323.39,363.18 L324.54,363.15 L325.91,363.12 L327.43,363.08 L329.02,363.05 L330.6,363.02 L332.28,362.99 L334.13,362.96 L336.05,362.93 L337.93,362.9 L339.69,362.87 L341.2,362.83 L342.42,362.81 L343.42,362.8 L344.29,362.79 L345.1,362.75 L345.95,362.68 L346.92,362.56 L348.02,362.37 L349.18,362.13 L350.37,361.86 L351.57,361.56 L352.76,361.24 L353.92,360.9 L355.04,360.55 L356.14,360.17 L357.23,359.76 L358.32,359.35 L359.4,358.93 L360.49,358.51 L361.58,358.12 L362.67,357.75 L363.76,357.38 L364.86,356.97 L365.96,356.5 L367.06,355.94 L368.18,355.26 L369.31,354.49 L370.44,353.66 L371.58,352.8 L372.71,351.92 L373.85,351.06 L375.01,350.19 L376.2,349.28 L377.39,348.35 L378.54,347.45 L379.64,346.6 L380.63,345.82 L381.5,345.14 L382.26,344.55 L382.95,344 L383.62,343.47 L384.32,342.92 L385.08,342.33 L385.9,341.66 L386.73,340.95 L387.59,340.22 L388.48,339.5 L389.4,338.85 L390.38,338.28 L391.45,337.8 L392.59,337.4 L393.78,337.05 L394.96,336.74 L396.11,336.45 L397.17,336.16 L398.12,335.89 L398.99,335.63 L399.82,335.39 L400.65,335.18 L401.52,335.01 L402.47,334.88 L403.53,334.81 L404.67,334.8 L405.86,334.84 L407.05,334.88 L408.19,334.9 L409.25,334.88 L410.24,334.81 L411.18,334.71 L412.07,334.59 L412.93,334.47 L413.76,334.35 L414.55,334.23 L415.3,334.09 L415.99,333.9 L416.65,333.71 L417.28,333.57 L417.92,333.51 L418.58,333.59 L419.25,333.84 L419.92,334.25 L420.59,334.74 L421.27,335.27 L421.94,335.76 L422.61,336.16 L423.26,336.47 L423.9,336.74 L424.53,336.98 L425.18,337.2 L425.88,337.41 L426.64,337.64 L427.49,337.86 L428.42,338.07 L429.39,338.28 L430.37,338.49 L431.3,338.7 L432.15,338.92 L432.92,339.17 L433.66,339.45 L434.35,339.74 L435,340 L435.61,340.19 L436.18,340.3 L436.67,340.27 L437.07,340.11 L437.43,339.89 L437.8,339.69 L438.22,339.55 L438.72,339.57 L439.33,339.76 L440.02,340.08 L440.75,340.49 L441.5,340.91 L442.25,341.29 L442.96,341.59 L443.64,341.76 L444.29,341.85 L444.95,341.91 L445.61,341.97 L446.28,342.09 L446.99,342.33 L447.73,342.72 L448.5,343.25 L449.29,343.84 L450.09,344.41 L450.88,344.88 L451.65,345.18 L452.4,345.2 L453.12,344.99 L453.84,344.68 L454.57,344.4 L455.32,344.28 L456.1,344.44 L456.93,345.02 L457.79,345.94 L458.67,347.01 L459.57,348.05 L460.49,348.88 L461.4,349.31 L462.32,349.18 L463.25,348.58 L464.19,347.77 L465.14,346.99 L466.12,346.47 L467.13,346.46 L468.21,347.14 L469.36,348.35 L470.53,349.83 L471.68,351.3 L472.75,352.51 L473.7,353.18 L474.47,353.18 L475.09,352.69 L475.63,351.94 L476.17,351.14 L476.78,350.5 L477.52,350.23 L478.41,350.42 L479.39,350.91 L480.44,351.56 L481.53,352.24 L482.61,352.82 L483.66,353.18 L484.71,353.22 L485.78,353.05 L486.84,352.78 L487.89,352.54 L488.89,352.44 L489.81,352.62 L490.65,353.24 L491.41,354.23 L492.12,355.36 L492.81,356.43 L493.52,357.21 L494.26,357.5 L495.04,357.06 L495.83,356.02 L496.64,354.71 L497.45,353.41 L498.29,352.46 L499.14,352.16 L500.05,352.71 L501.02,353.9 L502.02,355.43 L502.98,357 L503.87,358.31 L504.65,359.06 L505.3,359.17 L505.85,358.86 L506.32,358.29 L506.76,357.63 L507.18,357.03 L507.62,356.67 L508.1,356.54 L508.59,356.52 L509.08,356.57 L509.52,356.65 L509.89,356.72 L510.16,356.76" fill="none" stroke="#1f4f8c" stroke-width="1.05" stroke-linejoin="round" stroke-linecap="round"/>
<path d="M322.54,363.2 L323.39,363.15 L324.54,363.08 L325.91,363 L327.43,362.91 L329.02,362.82 L330.6,362.74 L332.23,362.66 L333.98,362.59 L335.79,362.52 L337.64,362.44 L339.45,362.36 L341.2,362.28 L342.95,362.21 L344.76,362.15 L346.55,362.08 L348.24,362 L349.73,361.89 L350.95,361.73 L351.83,361.51 L352.41,361.25 L352.81,360.95 L353.12,360.64 L353.45,360.31 L353.92,359.98 L354.52,359.66 L355.17,359.32 L355.84,358.98 L356.51,358.63 L357.15,358.26 L357.74,357.87 L358.25,357.49 L358.73,357.12 L359.17,356.74 L359.6,356.31 L360.03,355.81 L360.49,355.2 L360.98,354.5 L361.47,353.74 L361.98,352.91 L362.48,351.98 L362.98,350.94 L363.46,349.77 L363.94,348.49 L364.42,347.09 L364.89,345.59 L365.35,343.97 L365.8,342.24 L366.22,340.39 L366.62,338.3 L367,335.95 L367.37,333.48 L367.72,331.04 L368.04,328.79 L368.34,326.88 L368.58,325.42 L368.77,324.33 L368.93,323.43 L369.11,322.52 L369.32,321.43 L369.61,319.98 L369.98,318.09 L370.42,315.91 L370.91,313.54 L371.41,311.1 L371.9,308.71 L372.36,306.46 L372.8,304.34 L373.22,302.24 L373.64,300.18 L374.05,298.18 L374.47,296.25 L374.91,294.41 L375.36,292.65 L375.81,290.94 L376.27,289.31 L376.74,287.77 L377.2,286.34 L377.66,285.03 L378.13,283.85 L378.6,282.78 L379.07,281.82 L379.53,280.96 L379.99,280.23 L380.42,279.61 L380.83,279.12 L381.21,278.78 L381.57,278.55 L381.94,278.41 L382.33,278.34 L382.75,278.32 L383.21,278.37 L383.7,278.51 L384.21,278.72 L384.72,278.98 L385.23,279.28 L385.72,279.61 L386.19,279.93 L386.66,280.25 L387.12,280.6 L387.58,281.04 L388.03,281.58 L388.48,282.28 L388.92,283.14 L389.36,284.16 L389.79,285.29 L390.21,286.5 L390.62,287.74 L391.02,288.99 L391.4,290.3 L391.76,291.73 L392.11,293.2 L392.45,294.63 L392.79,295.95 L393.14,297.08 L393.49,297.99 L393.83,298.73 L394.17,299.36 L394.52,299.93 L394.88,300.5 L395.26,301.13 L395.66,301.79 L396.07,302.42 L396.49,303.06 L396.92,303.72 L397.36,304.42 L397.8,305.17 L398.26,305.97 L398.74,306.8 L399.22,307.67 L399.7,308.58 L400.15,309.56 L400.56,310.6 L400.9,311.73 L401.18,312.94 L401.43,314.2 L401.71,315.51 L402.04,316.83 L402.47,318.14 L403.02,319.46 L403.65,320.8 L404.35,322.16 L405.07,323.52 L405.8,324.88 L406.5,326.23 L407.18,327.62 L407.89,329.05 L408.59,330.49 L409.28,331.86 L409.93,333.13 L410.52,334.23 L411.04,335.17 L411.49,335.98 L411.9,336.68 L412.31,337.28 L412.76,337.81 L413.28,338.28 L413.89,338.62 L414.55,338.81 L415.25,338.92 L415.97,339.03 L416.66,339.22 L417.31,339.57 L417.91,340.07 L418.49,340.68 L419.04,341.37 L419.59,342.11 L420.14,342.86 L420.7,343.61 L421.26,344.4 L421.81,345.25 L422.36,346.13 L422.91,346.98 L423.49,347.75 L424.09,348.39 L424.73,348.9 L425.39,349.3 L426.07,349.62 L426.75,349.9 L427.44,350.15 L428.12,350.42 L428.81,350.7 L429.51,350.98 L430.21,351.23 L430.9,351.45 L431.55,351.62 L432.15,351.7 L432.67,351.63 L433.12,351.4 L433.54,351.11 L433.95,350.87 L434.4,350.79 L434.9,350.97 L435.51,351.48 L436.18,352.24 L436.89,353.16 L437.58,354.13 L438.21,355.06 L438.72,355.84 L439.07,356.54 L439.29,357.26 L439.45,357.93 L439.61,358.49 L439.84,358.89 L440.2,359.06 L440.73,358.87 L441.37,358.32 L442.07,357.61 L442.81,356.92 L443.54,356.42 L444.23,356.3 L444.87,356.69 L445.48,357.47 L446.09,358.44 L446.71,359.42 L447.35,360.21 L448.05,360.63 L448.8,360.56 L449.59,360.15 L450.42,359.55 L451.26,358.93 L452.1,358.43 L452.92,358.23 L453.72,358.41 L454.5,358.85 L455.28,359.43 L456.08,360.01 L456.91,360.45 L457.8,360.63 L458.76,360.43 L459.78,359.94 L460.83,359.31 L461.9,358.72 L462.95,358.3 L463.95,358.23 L464.92,358.64 L465.88,359.42 L466.82,360.39 L467.74,361.35 L468.62,362.1 L469.46,362.46 L470.23,362.36 L470.94,361.92 L471.61,361.29 L472.27,360.57 L472.96,359.91 L473.7,359.43 L474.5,359.09 L475.34,358.79 L476.2,358.53 L477.08,358.35 L477.94,358.24 L478.79,358.23 L479.6,358.37 L480.38,358.64 L481.16,358.99 L481.95,359.37 L482.78,359.72 L483.66,359.98 L484.63,360.15 L485.66,360.26 L486.72,360.35 L487.79,360.42 L488.83,360.51 L489.81,360.63 L490.72,360.76 L491.59,360.88 L492.44,361.02 L493.26,361.18 L494.08,361.38 L494.9,361.64 L495.72,362.03 L496.54,362.56 L497.35,363.13 L498.16,363.64 L498.97,364 L499.78,364.12 L500.58,363.91 L501.38,363.43 L502.17,362.8 L502.98,362.14 L503.8,361.56 L504.65,361.18 L505.6,361.01 L506.65,360.96 L507.71,360.99 L508.71,361.07 L509.56,361.14 L510.16,361.18" fill="none" stroke="#3f9d45" stroke-width="1.05" stroke-linejoin="round" stroke-linecap="round"/>
<line x1="59" y1="450.8" x2="59" y2="557.5" stroke="#231f20" stroke-width="1.3"/>
<line x1="58.4" y1="557" x2="241.2" y2="557" stroke="#231f20" stroke-width="1.3"/>
<line x1="55.4" y1="557" x2="59" y2="557" stroke="#231f20" stroke-width="1.1"/>
<text x="52.4" y="560.7" font-size="9.8" text-anchor="end" fill="#231f20" stroke="#231f20" stroke-width="0.15">0</text>
<line x1="55.4" y1="531" x2="59" y2="531" stroke="#231f20" stroke-width="1.1"/>
<text x="52.4" y="534.7" font-size="9.8" text-anchor="end" fill="#231f20" stroke="#231f20" stroke-width="0.15">10</text>
<line x1="55.4" y1="505" x2="59" y2="505" stroke="#231f20" stroke-width="1.1"/>
<text x="52.4" y="508.7" font-size="9.8" text-anchor="end" fill="#231f20" stroke="#231f20" stroke-width="0.15">20</text>
<line x1="55.4" y1="479" x2="59" y2="479" stroke="#231f20" stroke-width="1.1"/>
<text x="52.4" y="482.7" font-size="9.8" text-anchor="end" fill="#231f20" stroke="#231f20" stroke-width="0.15">30</text>
<line x1="55.4" y1="453" x2="59" y2="453" stroke="#231f20" stroke-width="1.1"/>
<text x="52.4" y="456.7" font-size="9.8" text-anchor="end" fill="#231f20" stroke="#231f20" stroke-width="0.15">40</text>
<line x1="79.5" y1="557" x2="79.5" y2="560" stroke="#231f20" stroke-width="1.0"/>
<text x="79.5" y="572.3" font-size="9.1" text-anchor="middle" fill="#231f20" stroke="#231f20" stroke-width="0.15">Saline</text>
<line x1="126.4" y1="557" x2="126.4" y2="560" stroke="#231f20" stroke-width="1.0"/>
<text x="126.4" y="572.3" font-size="9.1" text-anchor="middle" fill="#231f20" stroke="#231f20" stroke-width="0.15">Control</text>
<line x1="173" y1="557" x2="173" y2="560" stroke="#231f20" stroke-width="1.0"/>
<text x="173" y="572.3" font-size="9.1" text-anchor="middle" fill="#231f20" stroke="#231f20" stroke-width="0.15">HRG</text>
<line x1="219.8" y1="557" x2="219.8" y2="560" stroke="#231f20" stroke-width="1.0"/>
<text x="219.8" y="572.3" font-size="9.1" text-anchor="middle" fill="#231f20" stroke="#231f20" stroke-width="0.15">FXII</text>
<line x1="107" y1="577.8" x2="234" y2="577.8" stroke="#231f20" stroke-width="1.1"/>
<text x="170" y="589.4" font-size="9" text-anchor="middle" fill="#231f20" stroke="#231f20" stroke-width="0.15">ASO</text>
<rect x="65.3" y="492" width="10.5" height="65" fill="#ca0429" stroke="#9a0a22" stroke-width="0.6"/>
<rect x="83" y="524.7" width="10.2" height="32.3" fill="#154b87" stroke="#0b3566" stroke-width="0.6"/>
<rect x="112.1" y="500.8" width="10.5" height="56.2" fill="#ca0429" stroke="#9a0a22" stroke-width="0.6"/>
<rect x="129.6" y="527" width="10.6" height="30" fill="#154b87" stroke="#0b3566" stroke-width="0.6"/>
<rect x="159.2" y="515.5" width="10.7" height="41.5" fill="#ca0429" stroke="#9a0a22" stroke-width="0.6"/>
<rect x="176.7" y="532.5" width="10.9" height="24.5" fill="#154b87" stroke="#0b3566" stroke-width="0.6"/>
<rect x="206" y="473.7" width="11" height="83.3" fill="#ca0429" stroke="#9a0a22" stroke-width="0.6"/>
<rect x="223.5" y="496" width="10.7" height="61" fill="#154b87" stroke="#0b3566" stroke-width="0.6"/>
<line x1="70.6" y1="482" x2="70.6" y2="500" stroke="#231f20" stroke-width="0.9"/>
<line x1="68.4" y1="482" x2="72.8" y2="482" stroke="#231f20" stroke-width="0.9"/>
<line x1="68.4" y1="500" x2="72.8" y2="500" stroke="#231f20" stroke-width="0.9"/>
<line x1="88" y1="520" x2="88" y2="530" stroke="#231f20" stroke-width="0.9"/>
<line x1="85.8" y1="520" x2="90.2" y2="520" stroke="#231f20" stroke-width="0.9"/>
<line x1="85.8" y1="530" x2="90.2" y2="530" stroke="#231f20" stroke-width="0.9"/>
<line x1="117.3" y1="491" x2="117.3" y2="511" stroke="#231f20" stroke-width="0.9"/>
<line x1="115.1" y1="491" x2="119.5" y2="491" stroke="#231f20" stroke-width="0.9"/>
<line x1="115.1" y1="511" x2="119.5" y2="511" stroke="#231f20" stroke-width="0.9"/>
<line x1="135" y1="516" x2="135" y2="535" stroke="#231f20" stroke-width="0.9"/>
<line x1="132.8" y1="516" x2="137.2" y2="516" stroke="#231f20" stroke-width="0.9"/>
<line x1="132.8" y1="535" x2="137.2" y2="535" stroke="#231f20" stroke-width="0.9"/>
<line x1="164.4" y1="503" x2="164.4" y2="524" stroke="#231f20" stroke-width="0.9"/>
<line x1="162.2" y1="503" x2="166.6" y2="503" stroke="#231f20" stroke-width="0.9"/>
<line x1="162.2" y1="524" x2="166.6" y2="524" stroke="#231f20" stroke-width="0.9"/>
<line x1="182" y1="529" x2="182" y2="536" stroke="#231f20" stroke-width="0.9"/>
<line x1="179.8" y1="529" x2="184.2" y2="529" stroke="#231f20" stroke-width="0.9"/>
<line x1="179.8" y1="536" x2="184.2" y2="536" stroke="#231f20" stroke-width="0.9"/>
<line x1="211.2" y1="455" x2="211.2" y2="487.5" stroke="#231f20" stroke-width="0.9"/>
<line x1="209" y1="455" x2="213.4" y2="455" stroke="#231f20" stroke-width="0.9"/>
<line x1="209" y1="487.5" x2="213.4" y2="487.5" stroke="#231f20" stroke-width="0.9"/>
<line x1="228.8" y1="482" x2="228.8" y2="506" stroke="#231f20" stroke-width="0.9"/>
<line x1="226.6" y1="482" x2="231" y2="482" stroke="#231f20" stroke-width="0.9"/>
<line x1="226.6" y1="506" x2="231" y2="506" stroke="#231f20" stroke-width="0.9"/>
<circle cx="70.6" cy="481.8" r="2.3" fill="#000"/>
<circle cx="66.5" cy="489.6" r="2.3" fill="#000"/>
<circle cx="70.6" cy="488.3" r="2.3" fill="#000"/>
<circle cx="74.7" cy="490.9" r="2.3" fill="#000"/>
<circle cx="72.3" cy="497" r="2.3" fill="#000"/>
<circle cx="70.6" cy="499.4" r="2.3" fill="#000"/>
<circle cx="68.5" cy="501.4" r="2.3" fill="#000"/>
<circle cx="84.5" cy="519.3" r="2.3" fill="#000"/>
<circle cx="88.6" cy="519.8" r="2.3" fill="#000"/>
<circle cx="91.9" cy="522" r="2.3" fill="#000"/>
<circle cx="89.4" cy="523.1" r="2.3" fill="#000"/>
<circle cx="87.8" cy="533.7" r="2.3" fill="#000"/>
<circle cx="86" cy="525" r="2.3" fill="#000"/>
<circle cx="113.6" cy="490.9" r="2.3" fill="#000"/>
<circle cx="117.2" cy="493.7" r="2.3" fill="#000"/>
<circle cx="120.8" cy="490.9" r="2.3" fill="#000"/>
<circle cx="113.6" cy="499.7" r="2.3" fill="#000"/>
<circle cx="120.8" cy="499.7" r="2.3" fill="#000"/>
<circle cx="118" cy="509.2" r="2.3" fill="#000"/>
<circle cx="115.6" cy="512.8" r="2.3" fill="#000"/>
<circle cx="119.6" cy="510.5" r="2.3" fill="#000"/>
<circle cx="133.2" cy="516.1" r="2.3" fill="#000"/>
<circle cx="136.8" cy="517.4" r="2.3" fill="#000"/>
<circle cx="134.3" cy="522.3" r="2.3" fill="#000"/>
<circle cx="130.6" cy="526.4" r="2.3" fill="#000"/>
<circle cx="138.4" cy="525.6" r="2.3" fill="#000"/>
<circle cx="135.2" cy="528.8" r="2.3" fill="#000"/>
<circle cx="134.8" cy="535.4" r="2.3" fill="#000"/>
<circle cx="164.4" cy="501.7" r="2.3" fill="#000"/>
<circle cx="160.7" cy="506.5" r="2.3" fill="#000"/>
<circle cx="164.4" cy="510.1" r="2.3" fill="#000"/>
<circle cx="160.1" cy="514.2" r="2.3" fill="#000"/>
<circle cx="168.4" cy="514.6" r="2.3" fill="#000"/>
<circle cx="162.9" cy="521.6" r="2.3" fill="#000"/>
<circle cx="166.6" cy="520.1" r="2.3" fill="#000"/>
<circle cx="162" cy="524.3" r="2.3" fill="#000"/>
<circle cx="178" cy="531.7" r="2.3" fill="#000"/>
<circle cx="182.2" cy="530.4" r="2.3" fill="#000"/>
<circle cx="185.9" cy="530.4" r="2.3" fill="#000"/>
<circle cx="179.5" cy="535.4" r="2.3" fill="#000"/>
<circle cx="184.1" cy="534.4" r="2.3" fill="#000"/>
<circle cx="181.5" cy="533" r="2.3" fill="#000"/>
<circle cx="211.1" cy="454.3" r="2.3" fill="#000"/>
<circle cx="211.1" cy="458" r="2.3" fill="#000"/>
<circle cx="207.1" cy="466.3" r="2.3" fill="#000"/>
<circle cx="211.1" cy="462.3" r="2.3" fill="#000"/>
<circle cx="215.4" cy="465.4" r="2.3" fill="#000"/>
<circle cx="207.1" cy="472.8" r="2.3" fill="#000"/>
<circle cx="215.4" cy="472.8" r="2.3" fill="#000"/>
<circle cx="211.1" cy="505" r="2.3" fill="#000"/>
<circle cx="227" cy="482" r="2.3" fill="#000"/>
<circle cx="230.1" cy="485.6" r="2.3" fill="#000"/>
<circle cx="228.3" cy="490.2" r="2.3" fill="#000"/>
<circle cx="225.5" cy="494.9" r="2.3" fill="#000"/>
<circle cx="224.6" cy="500.4" r="2.3" fill="#000"/>
<circle cx="229.2" cy="497.6" r="2.3" fill="#000"/>
<circle cx="232.9" cy="500.4" r="2.3" fill="#000"/>
<text x="117.5" y="483.8" font-size="9.2" text-anchor="middle" fill="#231f20" stroke="#231f20" stroke-width="0.15">NS</text>
<text x="135.5" y="510" font-size="9.2" text-anchor="middle" fill="#231f20" stroke="#231f20" stroke-width="0.15">NS</text>
<circle cx="162.7" cy="491.2" r="0.95" fill="#000"/>
<circle cx="166.3" cy="491.2" r="0.95" fill="#000"/>
<path d="M178.2,515.1 L178,521.5 M180.4,515.1 L180.2,521.5 M176.75,517.53 L181.75,517.53 M176.75,519.2 L181.75,519.2" stroke="#231f20" stroke-width="0.95" fill="none"/>
<path d="M184.5,515.1 L184.3,521.5 M186.7,515.1 L186.5,521.5 M183.05,517.53 L188.05,517.53 M183.05,519.2 L188.05,519.2" stroke="#231f20" stroke-width="0.95" fill="none"/>
<circle cx="211.7" cy="445.1" r="0.95" fill="#000"/>
<path d="M228.15,467 L227.95,473.4 M230.35,467 L230.15,473.4 M226.7,469.43 L231.7,469.43 M226.7,471.1 L231.7,471.1" stroke="#231f20" stroke-width="0.95" fill="none"/>
<rect x="73.75" y="440.5" width="6.8" height="6.9" fill="#ca0429"/>
<rect x="73.75" y="453.2" width="6.8" height="6.9" fill="#154b87"/>
<text x="85" y="447.1" font-size="8.8" text-anchor="start" fill="#231f20" stroke="#231f20" stroke-width="0.15">– Catheter</text>
<text x="85" y="459.8" font-size="8.8" text-anchor="start" fill="#231f20" stroke="#231f20" stroke-width="0.15">+ Catheter</text>
<text transform="translate(35.4,503.8) rotate(-90) scale(0.76,1)" font-size="10.4" text-anchor="middle" fill="#231f20" stroke="#231f20" stroke-width="0.25">Lag time (min)</text>
<line x1="318.2" y1="438.4" x2="318.2" y2="557.8" stroke="#231f20" stroke-width="1.3"/>
<line x1="317.6" y1="557.3" x2="500.7" y2="557.3" stroke="#231f20" stroke-width="1.3"/>
<line x1="314.6" y1="557.3" x2="318.2" y2="557.3" stroke="#231f20" stroke-width="1.1"/>
<text x="310.7" y="561" font-size="9.8" text-anchor="end" fill="#231f20" stroke="#231f20" stroke-width="0.15">0</text>
<line x1="314.6" y1="540.63" x2="318.2" y2="540.63" stroke="#231f20" stroke-width="1.1"/>
<text x="310.7" y="544.33" font-size="9.8" text-anchor="end" fill="#231f20" stroke="#231f20" stroke-width="0.15">20</text>
<line x1="314.6" y1="523.97" x2="318.2" y2="523.97" stroke="#231f20" stroke-width="1.1"/>
<text x="310.7" y="527.67" font-size="9.8" text-anchor="end" fill="#231f20" stroke="#231f20" stroke-width="0.15">40</text>
<line x1="314.6" y1="507.3" x2="318.2" y2="507.3" stroke="#231f20" stroke-width="1.1"/>
<text x="310.7" y="511" font-size="9.8" text-anchor="end" fill="#231f20" stroke="#231f20" stroke-width="0.15">60</text>
<line x1="314.6" y1="490.64" x2="318.2" y2="490.64" stroke="#231f20" stroke-width="1.1"/>
<text x="310.7" y="494.34" font-size="9.8" text-anchor="end" fill="#231f20" stroke="#231f20" stroke-width="0.15">80</text>
<line x1="314.6" y1="473.97" x2="318.2" y2="473.97" stroke="#231f20" stroke-width="1.1"/>
<text x="310.7" y="477.67" font-size="9.8" text-anchor="end" fill="#231f20" stroke="#231f20" stroke-width="0.15">100</text>
<line x1="314.6" y1="457.3" x2="318.2" y2="457.3" stroke="#231f20" stroke-width="1.1"/>
<text x="310.7" y="461" font-size="9.8" text-anchor="end" fill="#231f20" stroke="#231f20" stroke-width="0.15">120</text>
<line x1="314.6" y1="440.64" x2="318.2" y2="440.64" stroke="#231f20" stroke-width="1.1"/>
<text x="310.7" y="444.34" font-size="9.8" text-anchor="end" fill="#231f20" stroke="#231f20" stroke-width="0.15">140</text>
<line x1="338" y1="557.3" x2="338" y2="560.3" stroke="#231f20" stroke-width="1.0"/>
<text x="338" y="571.9" font-size="9.1" text-anchor="middle" fill="#231f20" stroke="#231f20" stroke-width="0.15">Saline</text>
<line x1="385.3" y1="557.3" x2="385.3" y2="560.3" stroke="#231f20" stroke-width="1.0"/>
<text x="385.3" y="571.9" font-size="9.1" text-anchor="middle" fill="#231f20" stroke="#231f20" stroke-width="0.15">Control</text>
<line x1="432.1" y1="557.3" x2="432.1" y2="560.3" stroke="#231f20" stroke-width="1.0"/>
<text x="432.1" y="571.9" font-size="9.1" text-anchor="middle" fill="#231f20" stroke="#231f20" stroke-width="0.15">HRG</text>
<line x1="478.8" y1="557.3" x2="478.8" y2="560.3" stroke="#231f20" stroke-width="1.0"/>
<text x="478.8" y="571.9" font-size="9.1" text-anchor="middle" fill="#231f20" stroke="#231f20" stroke-width="0.15">FXII</text>
<line x1="368.75" y1="577.9" x2="491.6" y2="577.9" stroke="#231f20" stroke-width="1.1"/>
<text x="430" y="589.5" font-size="9" text-anchor="middle" fill="#231f20" stroke="#231f20" stroke-width="0.15">ASO</text>
<rect x="324.6" y="536" width="10.4" height="21.3" fill="#ca0429" stroke="#9a0a22" stroke-width="0.6"/>
<rect x="342.2" y="479.5" width="10.1" height="77.8" fill="#154b87" stroke="#0b3566" stroke-width="0.6"/>
<rect x="371.3" y="543.7" width="10.5" height="13.6" fill="#ca0429" stroke="#9a0a22" stroke-width="0.6"/>
<rect x="388.6" y="489.5" width="10.6" height="67.8" fill="#154b87" stroke="#0b3566" stroke-width="0.6"/>
<rect x="418" y="545.5" width="11" height="11.8" fill="#ca0429" stroke="#9a0a22" stroke-width="0.6"/>
<rect x="435.5" y="464" width="10.5" height="93.3" fill="#154b87" stroke="#0b3566" stroke-width="0.6"/>
<rect x="465.3" y="546.5" width="10.2" height="10.8" fill="#ca0429" stroke="#9a0a22" stroke-width="0.6"/>
<rect x="483" y="535" width="10.3" height="22.3" fill="#154b87" stroke="#0b3566" stroke-width="0.6"/>
<line x1="329.8" y1="527" x2="329.8" y2="541" stroke="#231f20" stroke-width="0.9"/>
<line x1="327.6" y1="527" x2="332" y2="527" stroke="#231f20" stroke-width="0.9"/>
<line x1="327.6" y1="541" x2="332" y2="541" stroke="#231f20" stroke-width="0.9"/>
<line x1="347.3" y1="474" x2="347.3" y2="487" stroke="#231f20" stroke-width="0.9"/>
<line x1="345.1" y1="474" x2="349.5" y2="474" stroke="#231f20" stroke-width="0.9"/>
<line x1="345.1" y1="487" x2="349.5" y2="487" stroke="#231f20" stroke-width="0.9"/>
<line x1="376.5" y1="531" x2="376.5" y2="545" stroke="#231f20" stroke-width="0.9"/>
<line x1="374.3" y1="531" x2="378.7" y2="531" stroke="#231f20" stroke-width="0.9"/>
<line x1="374.3" y1="545" x2="378.7" y2="545" stroke="#231f20" stroke-width="0.9"/>
<line x1="393.8" y1="478" x2="393.8" y2="495" stroke="#231f20" stroke-width="0.9"/>
<line x1="391.6" y1="478" x2="396" y2="478" stroke="#231f20" stroke-width="0.9"/>
<line x1="391.6" y1="495" x2="396" y2="495" stroke="#231f20" stroke-width="0.9"/>
<line x1="423.2" y1="527" x2="423.2" y2="545" stroke="#231f20" stroke-width="0.9"/>
<line x1="421" y1="527" x2="425.4" y2="527" stroke="#231f20" stroke-width="0.9"/>
<line x1="421" y1="545" x2="425.4" y2="545" stroke="#231f20" stroke-width="0.9"/>
<line x1="440.7" y1="454" x2="440.7" y2="464" stroke="#231f20" stroke-width="0.9"/>
<line x1="438.5" y1="454" x2="442.9" y2="454" stroke="#231f20" stroke-width="0.9"/>
<line x1="438.5" y1="464" x2="442.9" y2="464" stroke="#231f20" stroke-width="0.9"/>
<line x1="470" y1="542" x2="470" y2="548" stroke="#231f20" stroke-width="0.9"/>
<line x1="467.8" y1="542" x2="472.2" y2="542" stroke="#231f20" stroke-width="0.9"/>
<line x1="467.8" y1="548" x2="472.2" y2="548" stroke="#231f20" stroke-width="0.9"/>
<line x1="488" y1="527" x2="488" y2="538" stroke="#231f20" stroke-width="0.9"/>
<line x1="485.8" y1="527" x2="490.2" y2="527" stroke="#231f20" stroke-width="0.9"/>
<line x1="485.8" y1="538" x2="490.2" y2="538" stroke="#231f20" stroke-width="0.9"/>
<circle cx="329.2" cy="526.4" r="2.3" fill="#000"/>
<circle cx="329.2" cy="531.6" r="2.3" fill="#000"/>
<circle cx="325.8" cy="534.2" r="2.3" fill="#000"/>
<circle cx="333.6" cy="535.1" r="2.3" fill="#000"/>
<circle cx="328.4" cy="535.9" r="2.3" fill="#000"/>
<circle cx="326.7" cy="541.1" r="2.3" fill="#000"/>
<circle cx="331" cy="541.1" r="2.3" fill="#000"/>
<circle cx="350.9" cy="473.7" r="2.3" fill="#000"/>
<circle cx="347.4" cy="476.2" r="2.3" fill="#000"/>
<circle cx="344" cy="478.8" r="2.3" fill="#000"/>
<circle cx="350" cy="479.2" r="2.3" fill="#000"/>
<circle cx="346.5" cy="481.4" r="2.3" fill="#000"/>
<circle cx="347.1" cy="488.4" r="2.3" fill="#000"/>
<circle cx="376.5" cy="529.4" r="2.3" fill="#000"/>
<circle cx="376.5" cy="535.9" r="2.3" fill="#000"/>
<circle cx="373.4" cy="541.1" r="2.3" fill="#000"/>
<circle cx="379.4" cy="541.1" r="2.3" fill="#000"/>
<circle cx="373" cy="543.7" r="2.3" fill="#000"/>
<circle cx="380.3" cy="543.7" r="2.3" fill="#000"/>
<circle cx="376.5" cy="542" r="2.3" fill="#000"/>
<circle cx="391.5" cy="477.1" r="2.3" fill="#000"/>
<circle cx="395.9" cy="477.5" r="2.3" fill="#000"/>
<circle cx="394.1" cy="479.7" r="2.3" fill="#000"/>
<circle cx="393.8" cy="485.8" r="2.3" fill="#000"/>
<circle cx="390.7" cy="489.2" r="2.3" fill="#000"/>
<circle cx="397.6" cy="489.2" r="2.3" fill="#000"/>
<circle cx="394.1" cy="490.6" r="2.3" fill="#000"/>
<circle cx="393.8" cy="496.1" r="2.3" fill="#000"/>
<circle cx="423.6" cy="526.9" r="2.3" fill="#000"/>
<circle cx="421.5" cy="530" r="2.3" fill="#000"/>
<circle cx="419.4" cy="540.4" r="2.3" fill="#000"/>
<circle cx="423.6" cy="540.4" r="2.3" fill="#000"/>
<circle cx="426.7" cy="542.5" r="2.3" fill="#000"/>
<circle cx="420.4" cy="544.6" r="2.3" fill="#000"/>
<circle cx="425" cy="544.6" r="2.3" fill="#000"/>
<circle cx="440.3" cy="453.4" r="2.3" fill="#000"/>
<circle cx="441.3" cy="455.9" r="2.3" fill="#000"/>
<circle cx="439.2" cy="459" r="2.3" fill="#000"/>
<circle cx="437.1" cy="462.1" r="2.3" fill="#000"/>
<circle cx="444.4" cy="462.1" r="2.3" fill="#000"/>
<circle cx="441.3" cy="463.2" r="2.3" fill="#000"/>
<circle cx="469.5" cy="541.5" r="2.3" fill="#000"/>
<circle cx="467.4" cy="543.6" r="2.3" fill="#000"/>
<circle cx="472.6" cy="544.6" r="2.3" fill="#000"/>
<circle cx="469.5" cy="545.6" r="2.3" fill="#000"/>
<circle cx="471" cy="542.5" r="2.3" fill="#000"/>
<circle cx="485.2" cy="526.9" r="2.3" fill="#000"/>
<circle cx="491" cy="526.9" r="2.3" fill="#000"/>
<circle cx="488.3" cy="530" r="2.3" fill="#000"/>
<circle cx="485.2" cy="532.1" r="2.3" fill="#000"/>
<circle cx="491.4" cy="533.1" r="2.3" fill="#000"/>
<circle cx="488.3" cy="535.2" r="2.3" fill="#000"/>
<circle cx="484.1" cy="538.3" r="2.3" fill="#000"/>
<circle cx="490.4" cy="537.3" r="2.3" fill="#000"/>
<text x="376.5" y="523.6" font-size="9.2" text-anchor="middle" fill="#231f20" stroke="#231f20" stroke-width="0.15">NS</text>
<text x="393.8" y="470.7" font-size="9.2" text-anchor="middle" fill="#231f20" stroke="#231f20" stroke-width="0.15">NS</text>
<text x="423" y="521.6" font-size="9.2" text-anchor="middle" fill="#231f20" stroke="#231f20" stroke-width="0.15">NS</text>
<path d="M436.5,441.2 L436.3,447.6 M438.7,441.2 L438.5,447.6 M435.05,443.63 L440.05,443.63 M435.05,445.3 L440.05,445.3" stroke="#231f20" stroke-width="0.95" fill="none"/>
<path d="M442.8,441.2 L442.6,447.6 M445,441.2 L444.8,447.6 M441.35,443.63 L446.35,443.63 M441.35,445.3 L446.35,445.3" stroke="#231f20" stroke-width="0.95" fill="none"/>
<path d="M480.15,513 L479.95,519.4 M482.35,513 L482.15,519.4 M478.7,515.43 L483.7,515.43 M478.7,517.1 L483.7,517.1" stroke="#231f20" stroke-width="0.95" fill="none"/>
<path d="M486.45,513 L486.25,519.4 M488.65,513 L488.45,519.4 M485,515.43 L490,515.43 M485,517.1 L490,517.1" stroke="#231f20" stroke-width="0.95" fill="none"/>
<path d="M492.75,513 L492.55,519.4 M494.95,513 L494.75,519.4 M491.3,515.43 L496.3,515.43 M491.3,517.1 L496.3,517.1" stroke="#231f20" stroke-width="0.95" fill="none"/>
<rect x="330" y="435.5" width="6.8" height="6.9" fill="#ca0429"/>
<rect x="330" y="448.7" width="6.8" height="6.9" fill="#154b87"/>
<text x="340" y="442.1" font-size="8.8" text-anchor="start" fill="#231f20" stroke="#231f20" stroke-width="0.15">– Catheter</text>
<text x="340" y="455.3" font-size="8.8" text-anchor="start" fill="#231f20" stroke="#231f20" stroke-width="0.15">+ Catheter</text>
<text transform="translate(289.2,497.4) rotate(-90) scale(0.76,1)" font-size="10.4" text-anchor="middle" fill="#231f20" stroke="#231f20" stroke-width="0.25">Peak thrombin (nM)</text>
</svg>
</body></html>
